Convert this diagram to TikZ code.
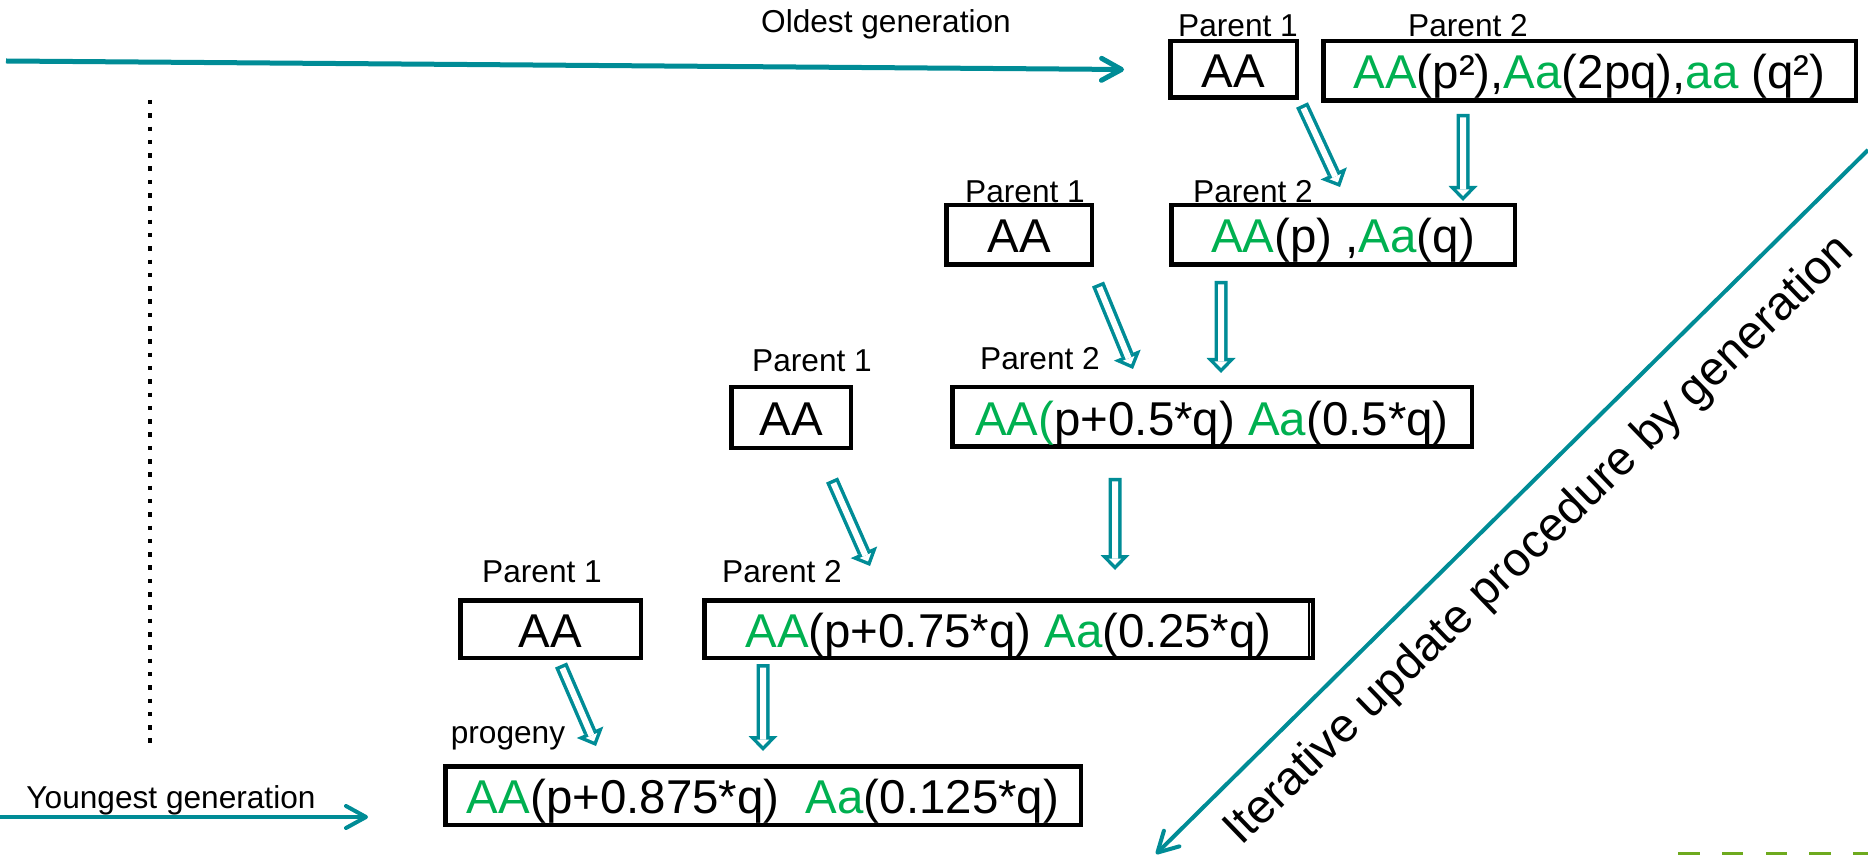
\documentclass[tikz,border=0pt]{standalone}
\usepackage{fontspec}
\setmainfont{Liberation Sans}
\usetikzlibrary{positioning,arrows.meta,calc}
\definecolor{lineteal}{RGB}{0,140,150}
\definecolor{allelegreen}{RGB}{0,176,80}
\definecolor{logogreen}{RGB}{110,170,30}
\newcommand{\grn}[1]{\textcolor{allelegreen}{#1}}
\tikzset{
  genbox/.style={draw, line width=0.45mm, inner sep=0pt, text height=3.6mm, text depth=0pt, font=\fontsize{13.5}{16}\selectfont},
  parentlabel/.style={anchor=base, inner sep=0pt, font=\fontsize{9}{11}\selectfont},
  genarrow/.style={draw=lineteal, line width=0.4mm, -{Straight Barb[length=2mm, width=2.2mm, round]}},
  hollow/.style={draw=lineteal, line width=1.3mm, -{Triangle[length=1.5mm, width=2.9mm, line width=0pt]},
    postaction={draw=white, line width=0.6mm, shorten <=0.35mm, shorten >=0.5mm,
      -{Triangle[length=0.65mm, width=1.26mm, line width=0pt]}}}
}

\begin{document}
\begin{tikzpicture}
  \useasboundingbox (0,0) rectangle (18.68,-8.55);

  \node[genbox, minimum width=1.265cm, minimum height=0.565cm] (r1a) at (12.335,-0.695) {AA};
  \node[genbox, minimum width=5.325cm, minimum height=0.595cm] (r1b) at (15.895,-0.71) {\grn{AA}(p²),\grn{Aa}(2pq),\grn{aa} (q²)};
  \node[genbox, minimum width=1.455cm, minimum height=0.595cm] (r2a) at (10.19,-2.35) {AA};
  \node[genbox, minimum width=3.435cm, minimum height=0.595cm] (r2b) at (13.43,-2.35) {\grn{AA}(p) ,\grn{Aa}(q)};
  \node[genbox, minimum width=1.195cm, minimum height=0.605cm] (r3a) at (7.91,-4.175) {AA};
  \node[genbox, minimum width=5.195cm, minimum height=0.595cm] (r3b) at (12.12,-4.17) {\grn{AA(}p+0.5*q) \grn{Aa}(0.5*q)};
  \node[genbox, minimum width=1.805cm, minimum height=0.575cm] (r4a) at (5.505,-6.29) {AA};
  \node[genbox, minimum width=6.085cm, minimum height=0.575cm] (r4b) at (10.085,-6.29) {\grn{AA}(p+0.75*q) \grn{Aa}(0.25*q)};
  \node[genbox, minimum width=6.355cm, minimum height=0.585cm] (kid) at (7.63,-7.955) {\grn{AA}(p+0.875*q) \ \grn{Aa}(0.125*q)};
  \draw[line width=0.2mm] ([xshift=-0.6mm]r4b.north east) -- ([xshift=-0.6mm]r4b.south east);

  \node[parentlabel] (l1a) at (12.38,-0.37) {Parent 1};
  \node[parentlabel] (l1b) at (14.68,-0.37) {Parent 2};
  \node[parentlabel] (l2a) at (10.25,-2.03) {Parent 1};
  \node[parentlabel] (l2b) at (12.53,-2.03) {Parent 2};
  \node[parentlabel] (l3a) at (8.12,-3.71) {Parent 1};
  \node[parentlabel] (l3b) at (10.40,-3.70) {Parent 2};
  \node[parentlabel] (l4a) at (5.42,-5.82) {Parent 1};
  \node[parentlabel] (l4b) at (7.82,-5.82) {Parent 2};
  \node[parentlabel] (lkid) at (5.08,-7.43) {progeny};

  \draw[hollow] ([shift={(0.03,-0.05)}]r1a.south east) -- ([shift={(-0.03,0.16)}]r2b.north);
  \draw[hollow] ([shift={(-1.265,-0.11)}]r1b.south) -- ([shift={(1.20,0.02)}]r2b.north);
  \draw[hollow] ([shift={(0.04,-0.17)}]r2a.south east) -- ([shift={(-0.79,0.16)}]r3b.north);
  \draw[hollow] ([shift={(-1.22,-0.14)}]r2b.south) -- ([shift={(0.09,0.12)}]r3b.north);
  \draw[hollow] ([shift={(0.41,-0.30)}]r3a.south) -- ([shift={(-1.385,0.32)}]r4b.north);
  \draw[hollow] ([shift={(-0.97,-0.29)}]r3b.south) -- ([shift={(1.065,0.28)}]r4b.north);
  \draw[hollow] ([shift={(0.105,-0.05)}]r4a.south) -- ([shift={(-1.67,0.18)}]kid.north);
  \draw[hollow] ([shift={(-2.455,-0.04)}]r4b.south) -- ([shift={(0,0.13)}]kid.north);

  \coordinate (oldtail) at (0.06,-0.61);
  \draw[genarrow, line width=0.5mm] (oldtail) -- ([xshift=-0.44cm]r1a.west);
  \node[parentlabel] (oldlbl) at (8.86,-0.33) {Oldest generation};
  \coordinate (youngtail) at (0,-8.17);
  \coordinate (younghead) at (3.68,-8.17);
  \draw[genarrow] (youngtail) -- (younghead);
  \node[parentlabel] (younglbl) at (1.71,-8.08) {Youngest generation};

  \draw[line width=0.45mm, dash pattern=on 0.45mm off 0.88mm] (1.5,-1.0) -- (1.5,-7.47);

  \coordinate (itertail) at (18.68,-1.50);
  \coordinate (iterhead) at (11.56,-8.54);
  \draw[genarrow] (itertail) -- (iterhead);
  \node[rotate=44, anchor=base, inner sep=0pt, font=\fontsize{13.5}{16}\selectfont] (iterlbl) at (15.485,-5.50) {Iterative update procedure by generation};

  \foreach \x/\w in {16.78/0.22, 17.22/0.21, 17.66/0.21, 18.09/0.22, 18.53/0.15}
    \fill[logogreen] (\x,-8.52) rectangle ++(\w,-0.03);
\end{tikzpicture}
\end{document}
